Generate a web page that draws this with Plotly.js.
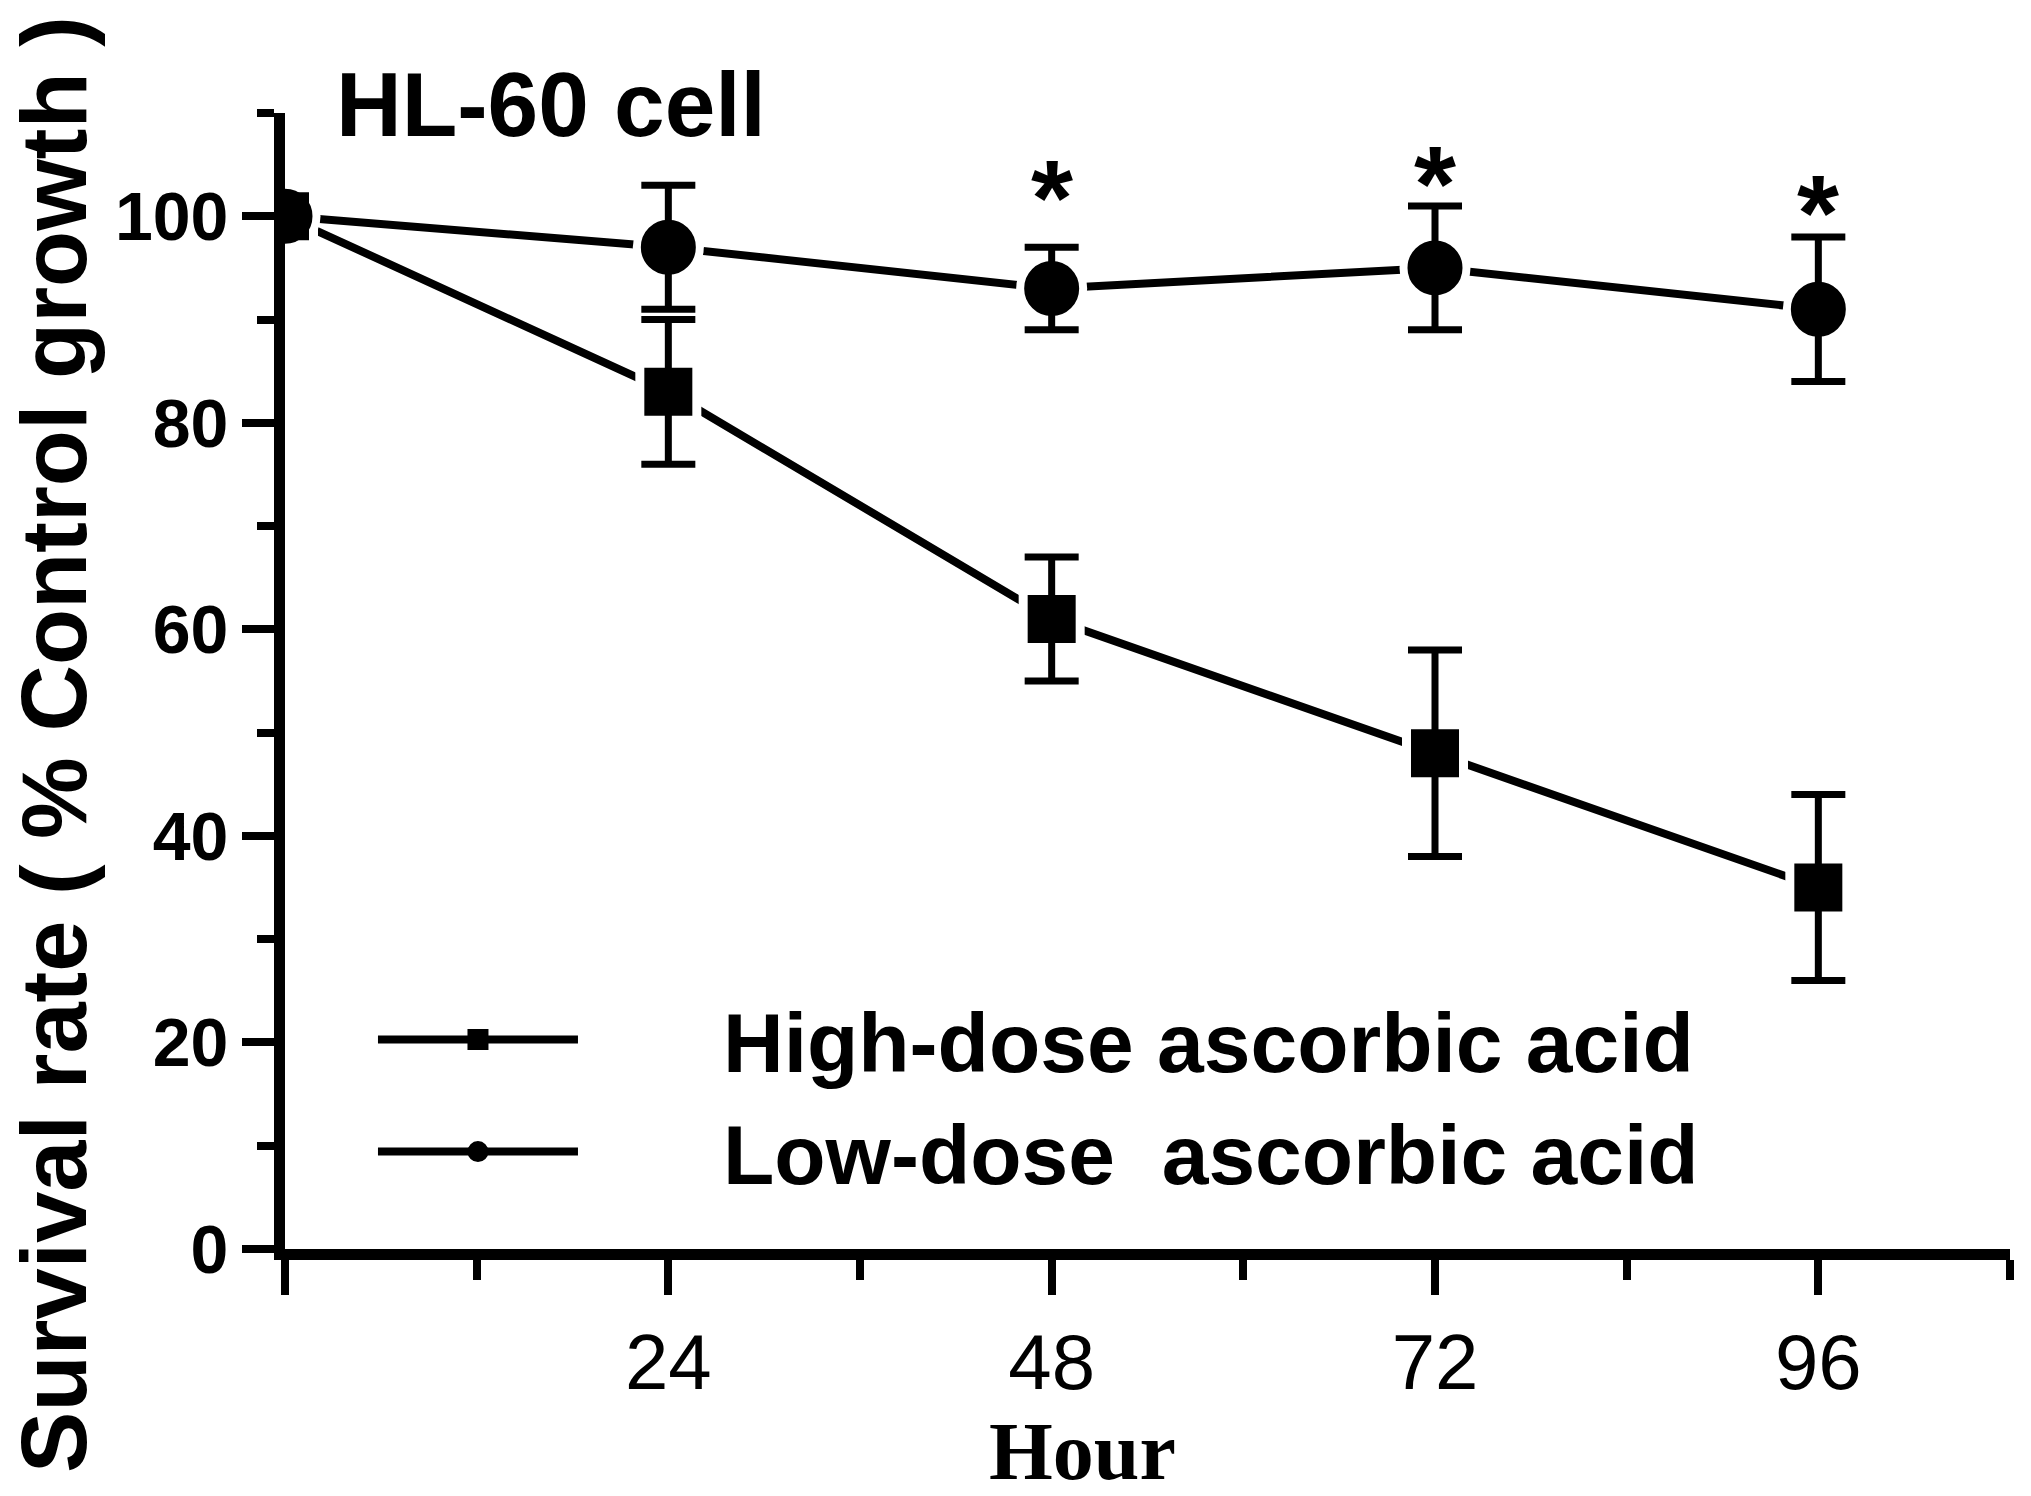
<!DOCTYPE html>
<html>
<head>
<meta charset="utf-8">
<script src="https://cdn.plot.ly/plotly-3.0.1.min.js"></script>
<style>html,body{margin:0;padding:0;background:#fff;}#chart{width:2031px;height:1496px;}</style>
</head>
<body>
<div id="chart"></div>
<script>
// ---- data ----
const hours = [0, 24, 48, 72, 96];
const highDose = [100, 83, 61, 48, 35];
const highErr = [0, 7, 6, 10, 9];
const lowDose = [100, 97, 93, 95, 91];
const lowErr = [0, 6, 4, 6, 7];
const sigHours = [48, 72, 96];
const sigY = [104.0, 105.4, 102.6];
const xTickVals = [0, 24, 48, 72, 96];
const xTickText = ['', '24', '48', '72', '96'];
const yTickVals = [0, 20, 40, 60, 80, 100];
const highName = 'High-dose ascorbic acid';
const lowName = 'Low-dose\u00a0 ascorbic acid';

const SANS = 'Liberation Sans, Arial, sans-serif';
const SERIF = 'Liberation Serif, Times New Roman, serif';
const pad = '\u00a0\u00a0\u00a0\u00a0\u00a0\u00a0';

const sqSize = 43, ciSize = 50, mLine = 5, lw = 8;

const traces = [
  // line traces carrying legend entries
  {x: hours, y: highDose, mode: 'lines+markers', name: pad + highName, showlegend: true,
   line: {color: '#000', width: lw},
   marker: {symbol: 'square', size: sqSize, color: '#000', line: {color: '#000', width: mLine}},
   hoverinfo: 'skip'},
  {x: hours, y: lowDose, mode: 'lines+markers', name: pad + lowName, showlegend: true,
   line: {color: '#000', width: lw},
   marker: {symbol: 'circle', size: ciSize, color: '#000', line: {color: '#000', width: mLine}},
   hoverinfo: 'skip'},
  // white halos to create gaps between lines and markers
  {x: hours, y: highDose, mode: 'markers', showlegend: false, hoverinfo: 'skip',
   marker: {symbol: 'square', size: sqSize + mLine + 18, color: '#fff', line: {width: 0}}},
  {x: hours, y: lowDose, mode: 'markers', showlegend: false, hoverinfo: 'skip',
   marker: {symbol: 'circle', size: ciSize + mLine + 16, color: '#fff', line: {width: 0}}},
  // markers with error bars
  {x: hours, y: highDose, mode: 'markers', showlegend: false,
   marker: {symbol: 'square', size: sqSize, color: '#000', line: {color: '#000', width: mLine}},
   error_y: {type: 'data', array: highErr, visible: true, color: '#000', thickness: 7, width: 27}},
  {x: hours, y: lowDose, mode: 'markers', showlegend: false,
   marker: {symbol: 'circle', size: ciSize, color: '#000', line: {color: '#000', width: mLine}},
   error_y: {type: 'data', array: lowErr, visible: true, color: '#000', thickness: 7, width: 27}}
];

const annotations = sigHours.map((h, i) => ({
  x: h, y: sigY[i], xref: 'x', yref: 'y', text: '*', showarrow: false,
  xanchor: 'center', yanchor: 'middle', yshift: -23,
  font: {family: SANS, size: 108, color: '#000', weight: 'bold'}
}));
// y axis title
annotations.push({
  xref: 'paper', yref: 'paper', x: 0, y: 0.4437, xanchor: 'center', yanchor: 'middle',
  xshift: -231, textangle: -90, showarrow: false, borderpad: 0,
  text: '<b>Survival rate ( % Control growth )</b>',
  font: {family: SANS, size: 92, color: '#000'}
});
// x axis title
annotations.push({
  xref: 'paper', yref: 'paper', x: (1082 - 285) / 1725, y: 0, xanchor: 'center', yanchor: 'bottom',
  yshift: -249, showarrow: false, borderpad: 0, text: '<b>Hour</b>',
  font: {family: SERIF, size: 82, color: '#000'}
});

const layout = {
  width: 2031, height: 1496,
  paper_bgcolor: '#fff', plot_bgcolor: '#fff',
  margin: {l: 285, r: 21, t: 113, b: 247, pad: 0},
  title: {text: '<b>HL-60 cell</b>', xref: 'paper', x: (336 - 285) / 1725, xanchor: 'left',
          yref: 'container', y: 1 - 104 / 1496, yanchor: 'middle',
          font: {family: SANS, size: 91, color: '#000'}},
  showlegend: true,
  legend: {x: 0.051, y: 0.2383, xanchor: 'left', yanchor: 'top', bgcolor: 'rgba(0,0,0,0)',
           borderwidth: 0, itemwidth: 200, tracegroupgap: 0,
           font: {family: SANS, size: 84, color: '#000', weight: 'bold'}},
  xaxis: {range: [0, 108], showgrid: false, zeroline: false, showline: true, linecolor: '#000', linewidth: 11,
          ticks: 'outside', ticklen: 35, tickwidth: 8, tickcolor: '#000',
          tickmode: 'array', tickvals: xTickVals, ticktext: xTickText,
          ticklabelstandoff: 0,
          tickfont: {family: SANS, size: 78, color: '#000'},
          minor: {dtick: 12, tick0: 0, ticks: 'outside', ticklen: 20, tickwidth: 8, tickcolor: '#000', showgrid: false},
          fixedrange: true},
  yaxis: {range: [0, 110], showgrid: false, zeroline: false, showline: true, linecolor: '#000', linewidth: 11,
          ticks: 'outside', ticklen: 32, tickwidth: 8, tickcolor: '#000',
          tickmode: 'array', tickvals: yTickVals, ticklabelstandoff: 0,
          tickfont: {family: SANS, size: 68, color: '#000', weight: 'bold'},
          minor: {dtick: 10, tick0: 0, ticks: 'outside', ticklen: 17, tickwidth: 8, tickcolor: '#000', showgrid: false},
          fixedrange: true},
  annotations: annotations
};

Plotly.newPlot('chart', traces, layout, {displayModeBar: false, staticPlot: true});
</script>
</body>
</html>
